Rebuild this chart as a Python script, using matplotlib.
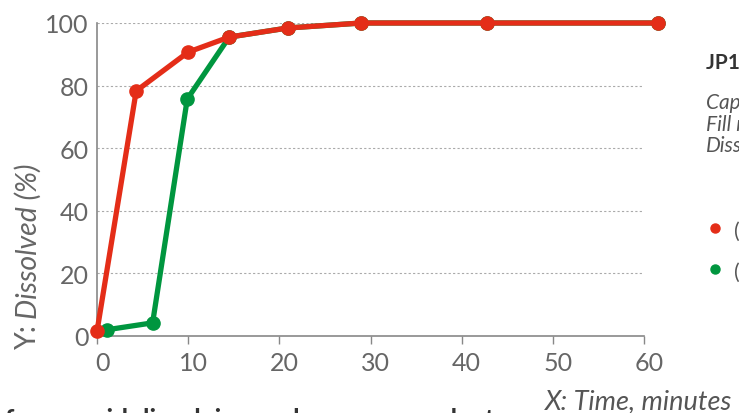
import numpy as np
import matplotlib.pyplot as plt
import matplotlib.transforms as mtransforms

plt.rcParams['font.family'] = ['Lato', 'DejaVu Sans']

# data
red_x = [0, 4.3, 10.0, 14.5, 20.9, 29.0, 42.8, 61.5]
red_y = [1.5, 78.3, 90.7, 95.5, 98.4, 100, 100, 100]
green_x = [1.1, 6.1, 9.9, 14.5, 20.9, 29.0, 42.8, 61.5]
green_y = [2.0, 4.2, 75.7, 95.5, 98.4, 100, 100, 100]
x_ticks = [0, 10, 20, 30, 40, 50, 60]
y_ticks = [0, 20, 40, 60, 80, 100]

RED = '#e42d18'
GREEN = '#00963f'
GREY = '#666666'

fig = plt.figure(figsize=(7.39, 4.14), dpi=100)
ax = fig.add_axes([97/739, 1 - 337/414, (644 - 97)/739, (337 - 24)/414])

ax.plot(green_x, green_y, color=GREEN, lw=3.8, marker='o', ms=9.5,
        clip_on=False, zorder=3)
ax.plot(red_x, red_y, color=RED, lw=3.8, marker='o', ms=9.5,
        clip_on=False, zorder=4)

ax.set_xlim(0, 60)
ax.set_ylim(0, 100)
ax.set_xticks(x_ticks)
ax.set_yticks(y_ticks)
ax.yaxis.grid(True, ls=(0, (2, 2)), color='#aaaaaa', lw=0.8)
ax.set_axisbelow(True)
for s in ['top', 'right']:
    ax.spines[s].set_visible(False)
for s in ['left', 'bottom']:
    ax.spines[s].set_color('#888888')
    ax.spines[s].set_linewidth(1.2)
ax.tick_params(axis='x', length=6, width=1, color='#888888', pad=5,
               labelsize=18, labelcolor=GREY)
ax.tick_params(axis='y', length=0, pad=6, labelsize=18, labelcolor=GREY)
offset = mtransforms.ScaledTranslation(5/100, 0, fig.dpi_scale_trans)
for lab in ax.get_xticklabels():
    lab.set_transform(lab.get_transform() + offset)

# axis titles
fig.text(28/739, 1 - 349/414, 'Y:', rotation=90, fontsize=20.5, color=GREY,
         ha='center', va='bottom')
fig.text(28/739, 1 - 319/414, 'Dissolved (%)', rotation=90, fontsize=20.5,
         color=GREY, style='italic', ha='center', va='bottom')
fig.text(545/739, 1 - 402/414, 'X: Time, minutes', fontsize=19.5, color='#555555',
         style='italic', ha='left', va='center')

# side legend (cut off by the figure edge)
fig.text(706/739, 1 - 63/414, 'JP1 Capsule', fontsize=15, fontweight='bold',
         color='#333333', va='center')
for yy, t in zip([103, 125, 146], ['Capsule type', 'Fill material', 'Dissolution']):
    fig.text(706/739, 1 - yy/414, t, fontsize=15, style='italic',
             color='#555555', va='center')
fig.lines.append(plt.Line2D([715/739], [1 - 229/414], marker='o', ms=6.5,
                            color=RED, transform=fig.transFigure))
fig.lines.append(plt.Line2D([715/739], [1 - 270/414], marker='o', ms=6.5,
                            color=GREEN, transform=fig.transFigure))
fig.text(734/739, 1 - 232/414, '(acid)', fontsize=15, color='#555555', va='center')
fig.text(734/739, 1 - 273/414, '(veg)', fontsize=15, color='#555555', va='center')

# caption below, mostly outside the frame
fig.text(5/739, 1 - 428/414, 'for an acid dissolving and a vegan product',
         fontsize=19, fontweight='bold', color='#333333', va='baseline')

fig.savefig('out.png', dpi=100)
